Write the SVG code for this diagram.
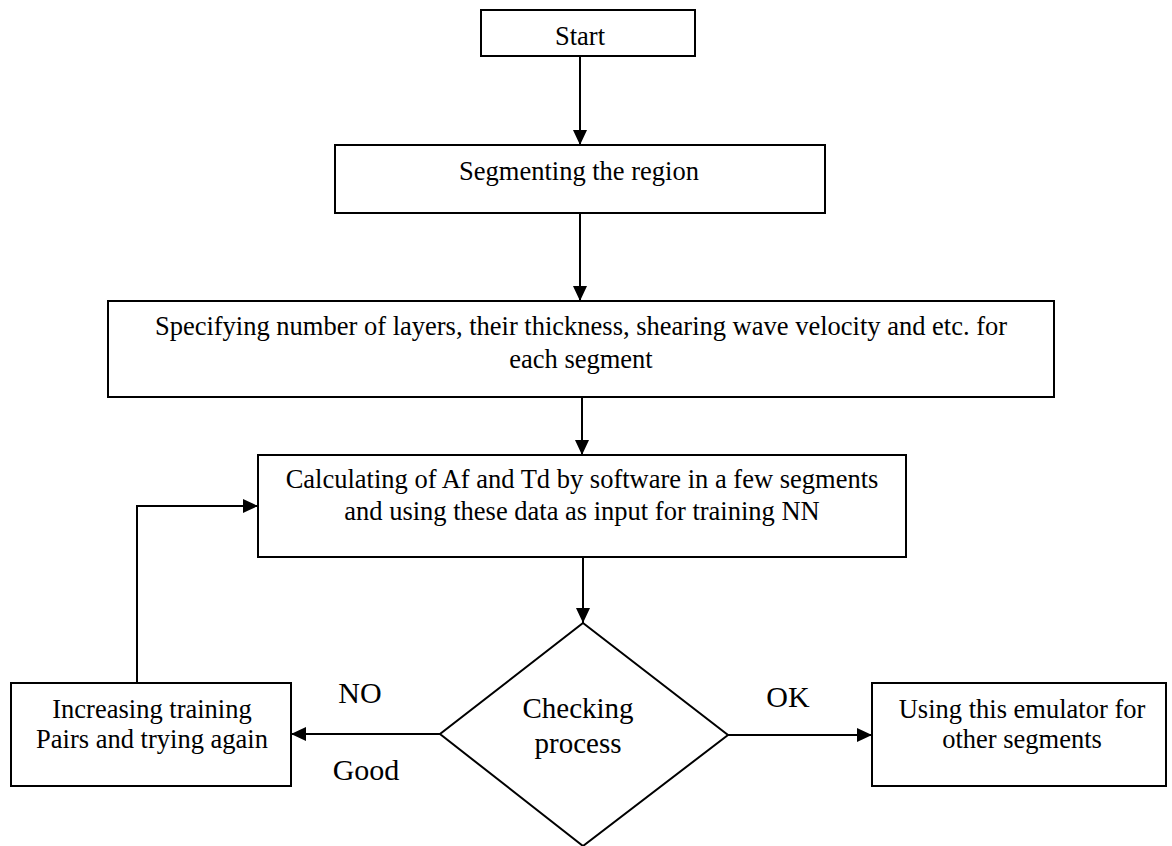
<svg xmlns="http://www.w3.org/2000/svg" width="1172" height="846" viewBox="0 0 1172 846">
<style>
.box{fill:#fff;stroke:#000;stroke-width:2}
.t{font-family:"Liberation Serif","Times New Roman",serif;font-size:26.5px;fill:#000;text-anchor:middle}
.c{font-size:29px}
.lbl{font-family:"Liberation Serif","Times New Roman",serif;font-size:30px;fill:#000;text-anchor:middle}
.ln{fill:none;stroke:#000;stroke-width:2}
</style>
<defs>
<marker id="ah" markerWidth="15" markerHeight="14" refX="15" refY="7" orient="auto" markerUnits="userSpaceOnUse">
<path d="M0,0 L15,7 L0,14 Z" fill="#000"/>
</marker>
</defs>
<rect width="1172" height="846" fill="#fff"/>
<g id="connectors">
<line class="ln" x1="580" y1="56" x2="580" y2="145" marker-end="url(#ah)"/>
<line class="ln" x1="580" y1="213" x2="580" y2="301" marker-end="url(#ah)"/>
<line class="ln" x1="582" y1="397" x2="582" y2="455" marker-end="url(#ah)"/>
<line class="ln" x1="583" y1="557" x2="583" y2="623" marker-end="url(#ah)"/>
<line class="ln" x1="440" y1="734" x2="291" y2="734" marker-end="url(#ah)"/>
<line class="ln" x1="728" y1="735" x2="872" y2="735" marker-end="url(#ah)"/>
<polyline class="ln" points="137,683 137,506 258,506" marker-end="url(#ah)"/>
</g>
<g id="start">
<rect class="box" x="481" y="10" width="214" height="46"/>
<text class="t" x="580" y="45">Start</text>
</g>
<g id="segmenting">
<rect class="box" x="335" y="145" width="490" height="68"/>
<text class="t" x="579" y="180">Segmenting the region</text>
</g>
<g id="specifying">
<rect class="box" x="108" y="301" width="946" height="96"/>
<text class="t" x="581" y="335">Specifying number of layers, their thickness, shearing wave velocity and etc. for</text>
<text class="t" x="581" y="368">each segment</text>
</g>
<g id="calculating">
<rect class="box" x="258" y="455" width="648" height="102"/>
<text class="t" x="582" y="488">Calculating of Af and Td by software in a few segments</text>
<text class="t" x="582" y="520">and using these data as input for training NN</text>
</g>
<g id="checking">
<polygon class="box" points="583,623 728,735 583,846 440,734"/>
<text class="t c" x="578" y="718">Checking</text>
<text class="t c" x="578" y="753">process</text>
</g>
<g id="increasing">
<rect class="box" x="11" y="683" width="280" height="103"/>
<text class="t" x="152" y="718">Increasing training</text>
<text class="t" x="152" y="748">Pairs and trying again</text>
</g>
<g id="using">
<rect class="box" x="872" y="683" width="294" height="103"/>
<text class="t" x="1022" y="718">Using this emulator for</text>
<text class="t" x="1022" y="748">other segments</text>
</g>
<g id="labels">
<text class="lbl" x="360" y="703">NO</text>
<text class="lbl" x="366" y="780">Good</text>
<text class="lbl" x="788" y="707">OK</text>
</g>
</svg>
